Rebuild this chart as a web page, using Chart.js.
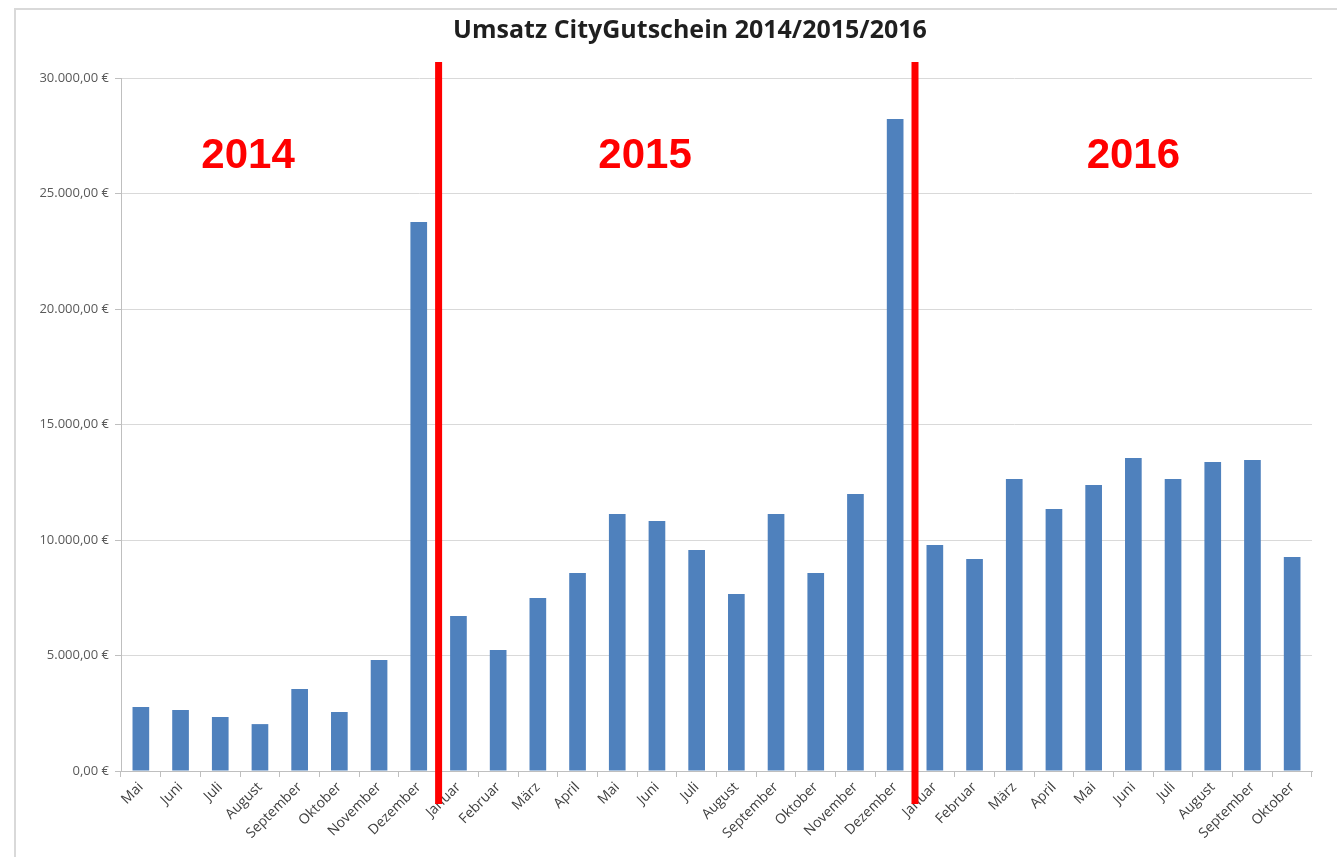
<!DOCTYPE html>
<html>
<head>
<meta charset="utf-8">
<script src="https://cdn.jsdelivr.net/npm/chart.js@4.4.1/dist/chart.umd.min.js"></script>
<style>
  html, body { margin: 0; padding: 0; background: #fff; }
  #wrap { width: 1337px; height: 857px; }
</style>
</head>
<body>
<div id="wrap"><canvas id="chart" width="1337" height="857"></canvas></div>
<script>
const monate = ['Mai', 'Juni', 'Juli', 'August', 'September', 'Oktober', 'November', 'Dezember',
    'Januar', 'Februar', 'März', 'April', 'Mai', 'Juni', 'Juli', 'August', 'September', 'Oktober', 'November', 'Dezember',
    'Januar', 'Februar', 'März', 'April', 'Mai', 'Juni', 'Juli', 'August', 'September', 'Oktober'];

// Umsatz je Monat in Euro
const umsatz = [2770, 2640, 2340, 2030, 3550, 2550, 4800, 23770,
    6710, 5240, 7490, 8570, 11130, 10820, 9570, 7660, 11130, 8570, 11990, 28230,
    9780, 9180, 12640, 11340, 12380, 13550, 12640, 13380, 13460, 9260];

const titel = 'Umsatz CityGutschein 2014/2015/2016';
const jahre = ['2014', '2015', '2016'];
const jahrGrenzen = [8, 20]; // Index des ersten Monats im neuen Jahr

function euro(v) {
    let teile = Math.abs(v).toFixed(2).split('.');
    let ganz = teile[0].replace(/\B(?=(\d{3})+(?!\d))/g, '.');
    return ganz + ',' + teile[1] + ' €';
}

// Rahmen, Titel, rote Trennlinien und Jahreszahlen
const markierungen = {
    id: 'markierungen',
    beforeDraw(chart) {
        const ctx = chart.ctx;
        ctx.save();
        ctx.strokeStyle = '#d9d9d9';
        ctx.lineWidth = 2;
        ctx.strokeRect(15, 9, 1400, 900);
        ctx.fillStyle = '#1f1f1f';
        ctx.font = 'bold 25px "Open Sans", "Liberation Sans", sans-serif';
        ctx.textAlign = 'center';
        ctx.textBaseline = 'middle';
        ctx.fillText(titel, 690, 31);
        ctx.restore();
    },
    afterDraw(chart) {
        const ctx = chart.ctx;
        const x = chart.scales.x;
        const y = chart.scales.y;
        const area = chart.chartArea;
        ctx.save();
        ctx.fillStyle = '#ff0000';
        jahrGrenzen.forEach(i => {
            const px = (x.getPixelForValue(i - 1) + x.getPixelForValue(i)) / 2;
            ctx.fillRect(px - 3.5, area.top - 16, 7, area.bottom - area.top + 49);
        });
        ctx.font = 'bold 42px "Liberation Sans", Arial, sans-serif';
        ctx.textAlign = 'center';
        ctx.textBaseline = 'middle';
        const labelPos = [2.7, 12.7, 25.0];
        jahre.forEach((j, k) => {
            ctx.fillText(j, x.getPixelForValue(labelPos[k]), y.getPixelForValue(26600));
        });
        ctx.restore();
    }
};

new Chart(document.getElementById('chart'), {
    type: 'bar',
    data: {
        labels: monate,
        datasets: [{
            label: 'Umsatz',
            data: umsatz,
            backgroundColor: '#4f81bd',
            barPercentage: 0.42,
            categoryPercentage: 1.0
        }]
    },
    options: {
        responsive: false,
        animation: false,
        layout: { padding: { left: 0, right: 25, top: 78, bottom: 0 } },
        plugins: {
            legend: { display: false },
            tooltip: { enabled: false },
            title: { display: false }
        },
        scales: {
            x: {
                grid: {
                    display: true,
                    drawOnChartArea: false,
                    drawTicks: true,
                    tickLength: 6,
                    color: '#bfbfbf'
                },
                border: { color: '#bfbfbf', width: 1 },
                ticks: {
                    minRotation: 45,
                    maxRotation: 45,
                    autoSkip: false,
                    color: '#404040',
                    padding: 2,
                    font: { family: '"Open Sans", "Liberation Sans", sans-serif', size: 14 }
                },
                afterFit(scale) { scale.height = 86; }
            },
            y: {
                min: 0,
                max: 30000,
                ticks: {
                    stepSize: 5000,
                    color: '#595959',
                    padding: 6,
                    font: { family: '"Open Sans", "Liberation Sans", sans-serif', size: 13 },
                    callback: v => euro(v)
                },
                grid: { color: '#d9d9d9', tickLength: 6, tickColor: '#bfbfbf' },
                border: { color: '#bfbfbf', width: 1 },
                afterFit(scale) { scale.width = 121; }
            }
        }
    },
    plugins: [markierungen]
});
</script>
</body>
</html>
